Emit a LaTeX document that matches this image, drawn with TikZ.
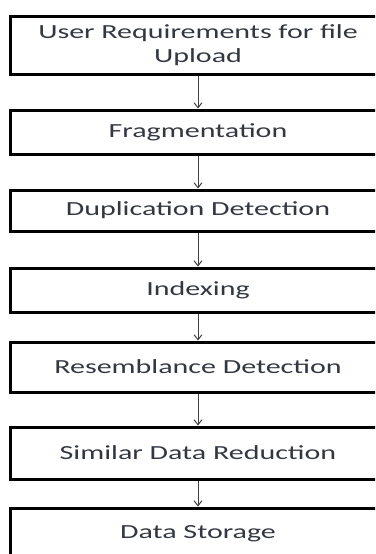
\documentclass[tikz,border=0pt]{standalone}
\usepackage{fontspec}
\setmainfont[FakeStretch=1.5]{Carlito}
\usepackage{tikz}
\usetikzlibrary{arrows.meta}
\definecolor{txtgray}{RGB}{50,55,65}

\tikzset{
    stage/.style={
        draw=black,
        line width=3pt,
        minimum width=376pt,
        inner sep=0pt,
        align=center,
        text=txtgray,
        font=\fontsize{20}{24}\selectfont
    },
    flow/.style={-{Straight Barb[length=5pt,width=8pt]}, draw=black!75, line width=1pt}
}

\begin{document}
\begin{tikzpicture}[x=1pt,y=-1pt]
\useasboundingbox (0,0) rectangle (375,554);
\clip (0,0) rectangle (375,554);

\node[stage, minimum height=58pt] (req) at (198,45) {User Requirements for file\\Upload};
\node[stage, minimum height=44pt] (frag) at (198,132) {Fragmentation};
\node[stage, minimum height=41pt] (dup) at (198,210.5) {Duplication Detection};
\node[stage, minimum height=44pt] (idx) at (198,290) {Indexing};
\node[stage, minimum height=50pt] (res) at (198,367) {Resemblance Detection};
\node[stage, minimum height=52pt] (red) at (198,453) {Similar Data Reduction};
\node[stage, minimum height=52pt] (store) at (198,534) {Data Storage};

% arrows between stages
\draw[flow] (req) -- (frag);
\draw[flow] (frag) -- (dup);
\draw[flow] (dup) -- (idx);
\draw[flow] (idx) -- (res);
\draw[flow] (res) -- (red);
\draw[flow] (red) -- (store);
\end{tikzpicture}
\end{document}
